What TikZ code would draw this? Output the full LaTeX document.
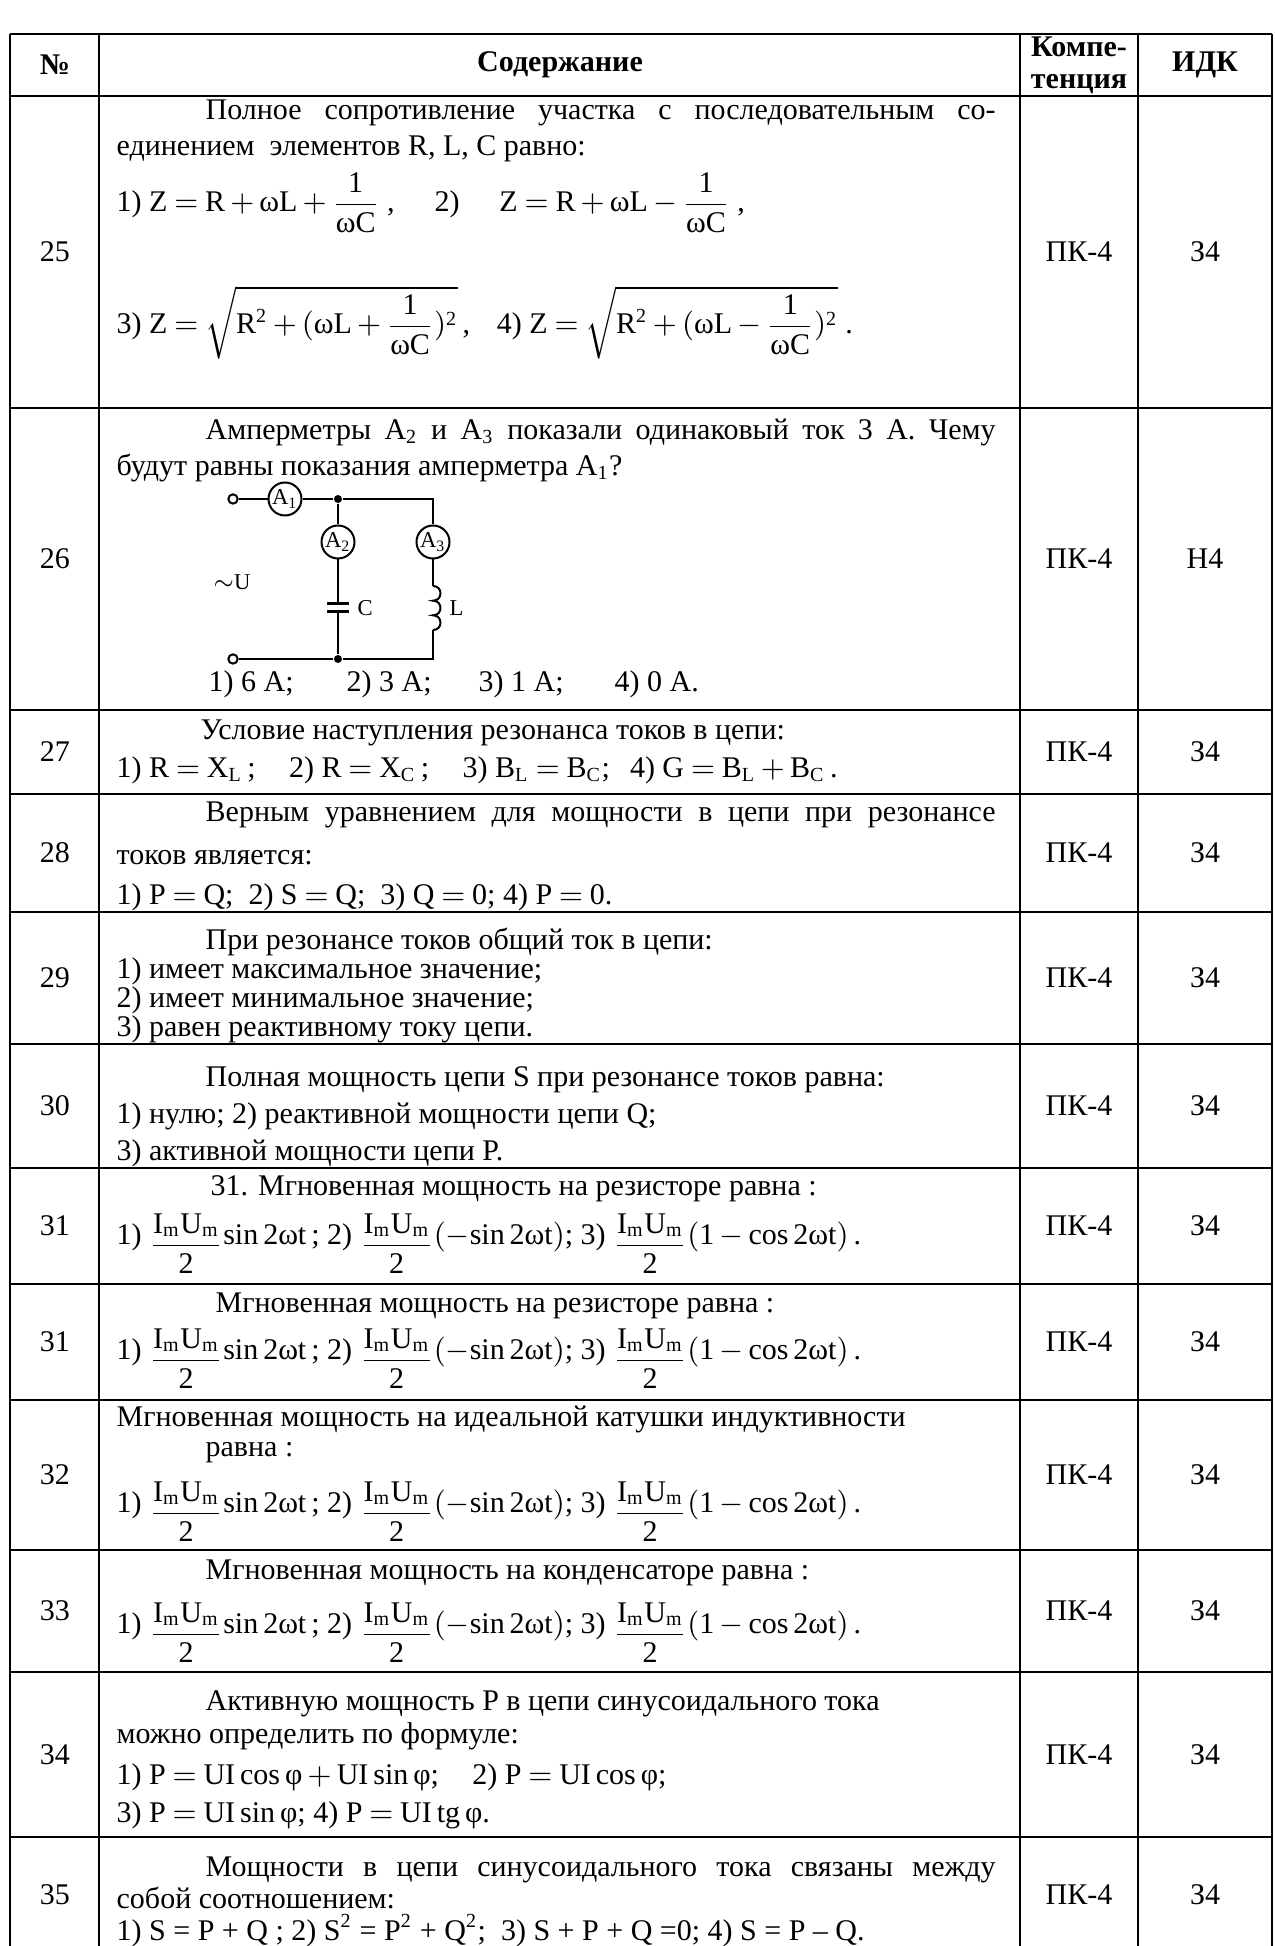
\documentclass[tikz,border=0pt]{standalone}
\usepackage{fontspec}
\setmainfont{Liberation Serif}
\usepackage{amsmath}
\usepackage{tikz}
\usetikzlibrary{positioning}

\newcommand{\cellfont}{\fontsize{9}{9.6}\selectfont}
\newcommand{\tagfont}{\fontsize{6.8}{7.2}\selectfont}
\newcommand{\tm}[1]{\text{#1}}
\newcommand{\ImUm}{\raisebox{-0.3em}{$\dfrac{\tm{I}_{\tm{m}}\tm{U}_{\tm{m}}}{\tm{2}}$}}
\newcommand{\fillline}[2]{\makebox[#1][s]{#2}}
\thickmuskip=4mu plus 2mu
\medmuskip=3mu plus 1mu

\tikzstyle{txt} = [anchor=base west, inner sep=0pt, font=\cellfont]
\tikzstyle{cell} = [inner sep=0pt, font=\cellfont]
\tikzstyle{head} = [inner sep=0pt, font=\cellfont\bfseries, align=center]
\tikzstyle{tag} = [inner sep=0pt, font=\tagfont]
\tikzstyle{hline} = [line width=0.8pt]
\tikzstyle{vline} = [line width=0.6pt]
\tikzstyle{wire} = [line width=0.6pt]
\tikzstyle{plate} = [line width=0.9pt]
\tikzstyle{ammeter} = [circle, draw, line width=0.6pt, minimum size=9.9pt, inner sep=0pt, font=\tagfont]
\tikzstyle{terminal} = [circle, draw, line width=0.6pt, fill=white, minimum size=2.8pt, inner sep=0pt]
\tikzstyle{junction} = [circle, fill, minimum size=2.4pt, inner sep=0pt]

\begin{document}
\begin{tikzpicture}[x=0.3pt, y=-0.3pt]
        \useasboundingbox (0,0) rectangle (1275,1946);

        % grid
        \foreach \y in {34,96,408,710,794,912,1044,1168,1284,1400,1550,1672,1837}
            \draw[hline] (10,\y) -- (1272,\y);
        \foreach \x in {10,99,1020,1138,1272}
            \draw[vline] (\x,34) -- (\x,1946);

        % header
        \node[head] (hNum) at (55,65) {№};
        \node[head] (hText) at (560,65) {Содержание};
        \node[head] (hComp) at (1079,65) {Компе-\\тенция};
        \node[head] (hIdk) at (1205,65) {ИДК};

        % row numbers and columns
        \foreach \y/\k/\n in {252/25/25,559/26/26,752/27/27,853/28/28,978/29/29,1106/30/30,1226/31/31,1342/31b/31,1475/32/32,1611/33/33,1755/34/34,1895/35/35}
            \node[cell] (num\k) at (55,\y) {\n};
        \foreach \y/\k in {252/25,559/26,752/27,853/28,978/29,1106/30,1226/31,1342/31b,1475/32,1611/33,1755/34,1895/35}
            \node[cell] (comp\k) at (1079,\y) {ПК-4};
        \foreach \y/\k in {252/25,752/27,853/28,978/29,1106/30,1226/31,1342/31b,1475/32,1611/33,1755/34,1895/35}
            \node[cell] (idk\k) at (1205,\y) {З4};
        \node[cell] (idk26) at (1205,559) {Н4};

        % row 25
        \node[txt] (t25a) at (205,120) {\fillline{237pt}{Полное сопротивление участка с последовательным со-}};
        \node[txt] (t25b) at (116,156) {единением\ \ элементов R, L, C равно:};
        \node[txt] (f25a) at (116,212) {1)\ $\tm{Z}=\tm{R}+\tm{ωL}+\dfrac{\tm{1}}{\tm{ωC}}$\ ,\hspace{12pt}2)\hspace{12pt}$\tm{Z}=\tm{R}+\tm{ωL}-\dfrac{\tm{1}}{\tm{ωC}}$\ ,};
        \node[txt] (f25b) at (116,334) {3)\ $\tm{Z}=\sqrt{\tm{R}^{\tm{2}}+(\tm{ωL}+\dfrac{\tm{1}}{\tm{ωC}})^{\tm{2}}}$\,,\hspace{8pt}4)\ $\tm{Z}=\sqrt{\tm{R}^{\tm{2}}+(\tm{ωL}-\dfrac{\tm{1}}{\tm{ωC}})^{\tm{2}}}$\ .};

        % row 26
        \node[txt] (t26a) at (205,440) {\fillline{237pt}{Амперметры A\textsubscript{2} и A\textsubscript{3} показали одинаковый ток 3 А. Чему}};
        \node[txt] (t26b) at (116,476) {будут равны показания амперметра A\textsubscript{1}?};

        % circuit
        \node[terminal] (inTop) at (233,499) {};
        \node[ammeter] (A1) at (285,499) {A\textsubscript{1}};
        \node[junction] (jTop) at (338,499) {};
        \coordinate (cTop) at (433,499);
        \node[ammeter] (A2) at (338,542) {A\textsubscript{2}};
        \node[ammeter] (A3) at (433,542) {A\textsubscript{3}};
        \coordinate (capTop) at (338,604);
        \coordinate (capBot) at (338,612);
        \coordinate (indTop) at (433,586);
        \coordinate (indBot) at (433,630);
        \node[terminal] (inBot) at (233,659) {};
        \node[junction] (jBot) at (338,659) {};
        \coordinate (cBot) at (433,659);
        \node[tag] (lblU) at (232,582) {$\sim$U};
        \node[tag, anchor=west] (lblC) at (357,608) {C};
        \node[tag, anchor=west] (lblL) at (449,608) {L};
        \draw[wire] (inTop) -- (A1) -- (jTop) -- (cTop) -- (A3);
        \draw[wire] (jTop) -- (A2) -- (capTop);
        \draw[wire] (capBot) -- (jBot);
        \draw[plate] (capTop) ++(-11,0) -- ++(22,0);
        \draw[plate] (capBot) ++(-11,0) -- ++(22,0);
        \draw[wire] (A3) -- (indTop);
        \draw[wire] (indTop) .. controls +(10,0) and +(10,0) .. ++(0,14.67)
            .. controls +(10,0) and +(10,0) .. ++(0,14.67)
            .. controls +(10,0) and +(10,0) .. (indBot);
        \draw[wire] (indBot) -- (cBot) -- (jBot) -- (inBot);

        \node[txt] (a26a) at (208,692) {1) 6 A;};
        \node[txt] (a26b) at (346,692) {2) 3 A;};
        \node[txt] (a26c) at (478,692) {3) 1 A;};
        \node[txt] (a26d) at (614,692) {4) 0 A.};

        % row 27
        \node[txt] (t27a) at (200,740) {Условие наступления резонанса токов в цепи:};
        \node[txt] (f27) at (116,778) {1) $\tm{R}=\tm{X}_{\tm{L}}$\,;\hspace{10pt}2) $\tm{R}=\tm{X}_{\tm{C}}$\,;\hspace{10pt}3) $\tm{B}_{\tm{L}}=\tm{B}_{\tm{C}}$;\hspace{6pt}4) $\tm{G}=\tm{B}_{\tm{L}}+\tm{B}_{\tm{C}}$\,.};

        % row 28
        \node[txt] (t28a) at (205,822) {\fillline{237pt}{Верным уравнением для мощности в цепи при резонансе}};
        \node[txt] (t28b) at (116,864) {токов является:};
        \node[txt] (f28) at (116,904) {1) $\tm{P}=\tm{Q}$;\ \ 2) $\tm{S}=\tm{Q}$;\ \ 3) $\tm{Q}=\tm{0}$;\ 4) $\tm{P}=\tm{0}$.};

        % row 29
        \node[txt] (t29a) at (205,949) {При резонансе токов общий ток в цепи:};
        \node[txt] (t29b) at (116,978) {1) имеет максимальное значение;};
        \node[txt] (t29c) at (116,1007) {2) имеет минимальное значение;};
        \node[txt] (t29d) at (116,1036) {3) равен реактивному току цепи.};

        % row 30
        \node[txt] (t30a) at (205,1086) {Полная мощность цепи S при резонансе токов равна:};
        \node[txt] (t30b) at (116,1123) {1) нулю; 2) реактивной мощности цепи Q;};
        \node[txt] (t30c) at (116,1160) {3) активной мощности цепи P.};

        % row 31
        \node[txt] (t31a) at (210,1195) {31. Мгновенная мощность на резисторе равна :};
        \node[txt] (f31) at (116,1244) {1) \ImUm\tm{sin\,2ωt}\,;\ 2) \ImUm$(-\tm{sin\,2ωt})$;\ 3) \ImUm$(\tm{1}-\tm{cos\,2ωt})$\,.};

        % row 31 (repeat)
        \node[txt] (t31c) at (215,1312) {Мгновенная мощность на резисторе равна :};
        \node[txt] (f31c) at (116,1359) {1) \ImUm\tm{sin\,2ωt}\,;\ 2) \ImUm$(-\tm{sin\,2ωt})$;\ 3) \ImUm$(\tm{1}-\tm{cos\,2ωt})$\,.};

        % row 32
        \node[txt] (t32a) at (116,1426) {Мгновенная мощность на идеальной катушки индуктивности};
        \node[txt] (t32b) at (205,1456) {равна :};
        \node[txt] (f32) at (116,1512) {1) \ImUm\tm{sin\,2ωt}\,;\ 2) \ImUm$(-\tm{sin\,2ωt})$;\ 3) \ImUm$(\tm{1}-\tm{cos\,2ωt})$\,.};

        % row 33
        \node[txt] (t33a) at (205,1579) {Мгновенная мощность на конденсаторе равна :};
        \node[txt] (f33) at (116,1633) {1) \ImUm\tm{sin\,2ωt}\,;\ 2) \ImUm$(-\tm{sin\,2ωt})$;\ 3) \ImUm$(\tm{1}-\tm{cos\,2ωt})$\,.};

        % row 34
        \node[txt] (t34a) at (205,1710) {Активную мощность P в цепи синусоидального тока};
        \node[txt] (t34b) at (116,1743) {можно определить по формуле:};
        \node[txt] (t34c) at (116,1784) {1) $\tm{P}=\tm{UI\,cos\,φ}+\tm{UI\,sin\,φ}$;\hspace{10pt}2) $\tm{P}=\tm{UI\,cos\,φ}$;};
        \node[txt] (t34d) at (116,1822) {3) $\tm{P}=\tm{UI\,sin\,φ}$;\ 4) $\tm{P}=\tm{UI\,tg\,φ}$.};

        % row 35
        \node[txt] (t35a) at (205,1876) {\fillline{237pt}{Мощности в цепи синусоидального тока связаны между}};
        \node[txt] (t35b) at (116,1908) {собой соотношением:};
        \node[txt] (t35c) at (116,1940) {1) S = P + Q ; 2) S\textsuperscript{2} = P\textsuperscript{2} + Q\textsuperscript{2};\ \ 3) S + P + Q =0; 4) S = P – Q.};
    \end{tikzpicture}
\end{document}
